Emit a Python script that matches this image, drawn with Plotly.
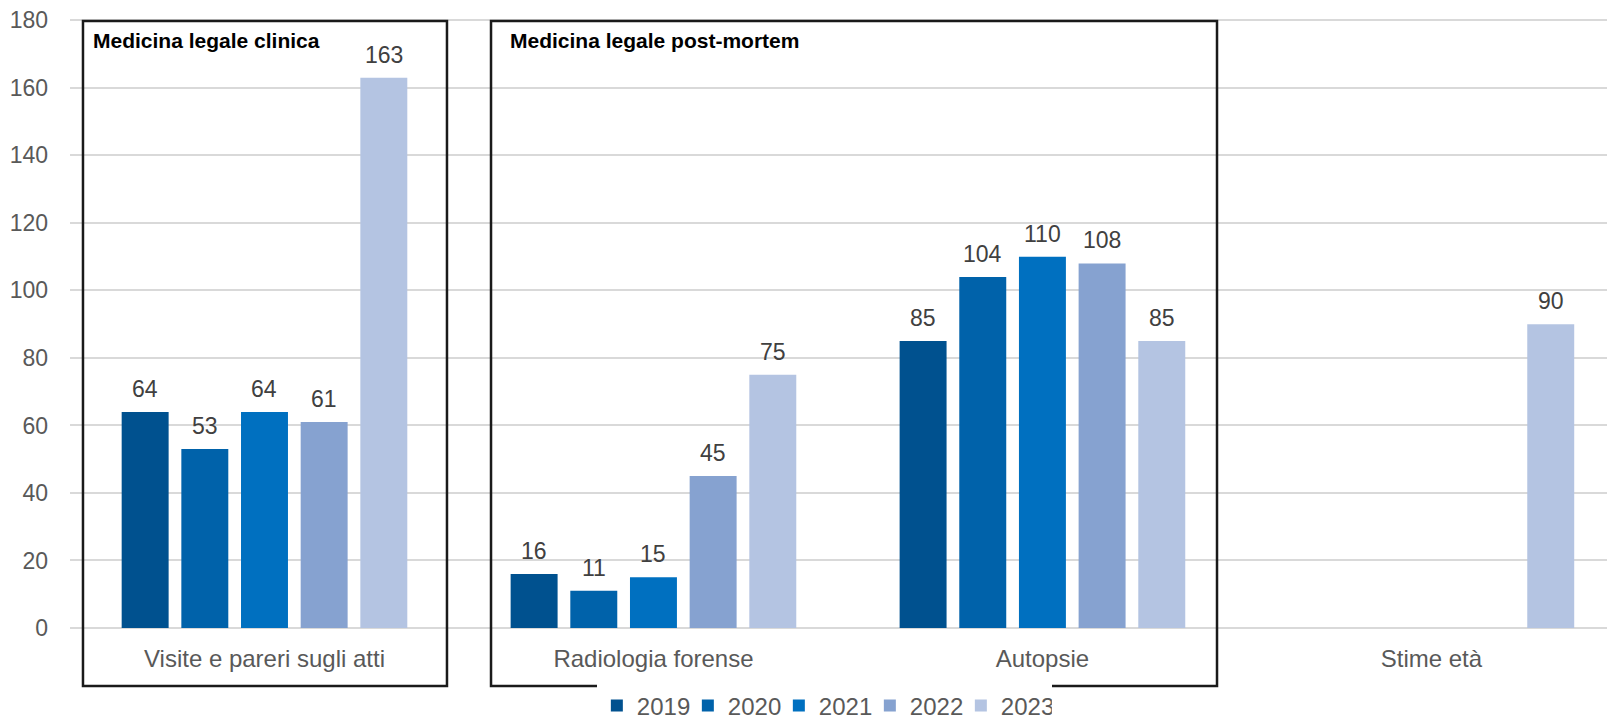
import plotly.graph_objects as go

categories = ["Visite e pareri sugli atti", "Radiologia forense", "Autopsie", "Stime età"]
years = ["2019", "2020", "2021", "2022", "2023"]
values = {
    "2019": [64, 16, 85, None],
    "2020": [53, 11, 104, None],
    "2021": [64, 15, 110, None],
    "2022": [61, 45, 108, None],
    "2023": [163, 75, 85, 90],
}
colors = ["#00518F", "#0062AA", "#0070C0", "#86A2D0", "#B4C4E2"]
y_ticks = [0, 20, 40, 60, 80, 100, 120, 140, 160, 180]
group_titles = ["Medicina legale clinica", "Medicina legale post-mortem"]

FONT = "Liberation Sans, Arial, sans-serif"

fig = go.Figure()
for y, c in zip(years, colors):
    fig.add_trace(go.Bar(
        x=categories, y=values[y], name=y,
        marker=dict(color=c, line=dict(width=0)),
    ))

# data labels
pitch = 59.7
annotations = []
for i, y in enumerate(years):
    for cat, v in zip(categories, values[y]):
        if v is None:
            continue
        annotations.append(dict(
            x=cat, y=v, xref="x", yref="y", text=str(v), showarrow=False,
            xshift=(i - 2) * pitch, yanchor="bottom", yshift=8,
            font=dict(size=23, color="#404040", family=FONT),
        ))

annotations.append(dict(x=0.0135, y=0.9655, xref="paper", yref="paper", text="<b>" + group_titles[0] + "</b>",
                        showarrow=False, xanchor="left", yanchor="middle",
                        font=dict(size=21, color="#000000", family=FONT)))
annotations.append(dict(x=0.2834, y=0.9655, xref="paper", yref="paper", text="<b>" + group_titles[1] + "</b>",
                        showarrow=False, xanchor="left", yanchor="middle",
                        font=dict(size=21, color="#000000", family=FONT)))

shapes = [
    dict(type="rect", xref="paper", yref="paper", x0=0.0084, x1=0.2440, y0=-0.0952, y1=0.9967,
         line=dict(color="#1a1a1a", width=2.5), fillcolor="rgba(0,0,0,0)", layer="above"),
    dict(type="rect", xref="paper", yref="paper", x0=0.2725, x1=0.7424, y0=-0.0952, y1=0.9967,
         line=dict(color="#1a1a1a", width=2.5), fillcolor="rgba(0,0,0,0)", layer="above"),
]

# page body has an 8px margin, so the figure is drawn 8px smaller and offset
fig.update_layout(
    width=1607, height=712,
    margin=dict(l=62, r=0, t=11, b=92, autoexpand=False),
    paper_bgcolor="white", plot_bgcolor="white",
    barmode="group", bargap=0.233, bargroupgap=0.213,
    font=dict(family=FONT, size=23, color="#595959"),
    showlegend=True,
    legend=dict(orientation="h", x=0.341, xanchor="left", y=-0.128, yanchor="middle",
                font=dict(size=24, color="#595959", family=FONT), itemwidth=30,
                entrywidth=46, entrywidthmode="pixels",
                traceorder="normal", tracegroupgap=0),
    annotations=annotations,
    shapes=shapes,
    xaxis=dict(range=[-0.5, 3.472], showgrid=False, showline=False, ticks="", automargin=False,
               tickfont=dict(size=24, color="#595959", family=FONT), ticklabelstandoff=14),
    yaxis=dict(range=[0, 180.4], tickvals=y_ticks, showgrid=True, gridcolor="#D9D9D9", gridwidth=1.5,
               zeroline=True, zerolinecolor="#D9D9D9", zerolinewidth=1.5, showline=False, ticks="",
               automargin=False, ticklabeloverflow="allow",
               tickfont=dict(size=23, color="#595959", family=FONT), ticklabelstandoff=21),
)

fig.write_html("out.html")
